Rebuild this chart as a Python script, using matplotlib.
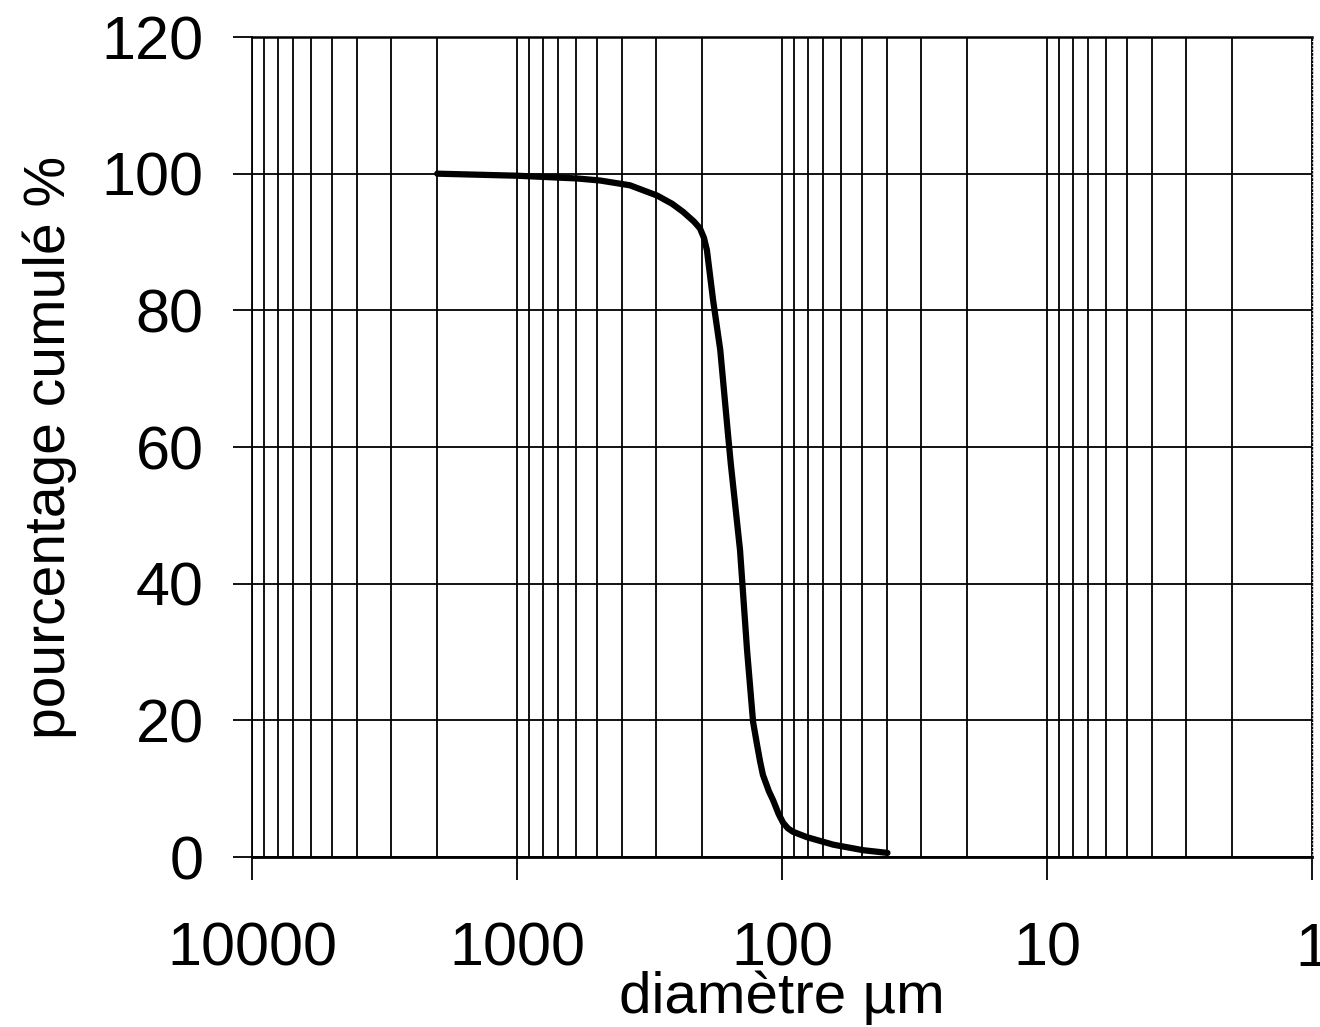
import numpy as np
import matplotlib
matplotlib.use('Agg')
import matplotlib.pyplot as plt

# cumulative passing curve
diam = [2000, 1000, 594, 486, 375, 296, 260, 236, 215, 204, 197, 192, 182, 171, 160,
        156, 144, 135.5, 128.6, 124.3, 121, 118, 112, 108, 103, 99, 95, 91, 80.5, 64, 49.5, 40]
pct = [100, 99.7, 99.3, 99.0, 98.3, 96.8, 95.6, 94.4, 93.0, 92.0, 90.6, 88.8, 81.5, 74.2,
       62.0, 57.5, 44.9, 30.3, 19.8, 16.5, 14.0, 12.0, 9.6, 8.3, 6.3, 5.0, 4.2, 3.7, 2.9, 1.8, 1.0, 0.6]

x_ticks = [10000, 1000, 100, 10, 1]
x_labels = ['10000', '1000', '100', '10', '1']
y_ticks = [0, 20, 40, 60, 80, 100, 120]

plt.rcParams['font.family'] = ['Liberation Sans', 'DejaVu Sans']

fig = plt.figure(figsize=(13.2, 10.27), dpi=100)
ax = fig.add_axes([252/1320, 1 - 857/1027, (1312 - 252)/1320, (857 - 37)/1027])

ax.plot(diam, pct, color='black', linewidth=4.5, solid_capstyle='round',
        solid_joinstyle='round', zorder=3)

ax.set_xscale('log')
ax.set_xlim(10000, 1)
ax.set_ylim(0, 120)

ax.set_xticks(x_ticks)
ax.set_xticklabels(x_labels)
ax.set_yticks(y_ticks)
ax.xaxis.set_minor_locator(matplotlib.ticker.LogLocator(base=10, subs=np.arange(2, 10)))
ax.xaxis.set_minor_formatter(matplotlib.ticker.NullFormatter())

ax.grid(True, which='major', color='black', linewidth=1.3)
ax.grid(True, which='minor', axis='x', color='black', linewidth=1.3)

ax.tick_params(axis='x', which='major', direction='out', length=16.5, width=1.3,
               pad=30, labelsize=44, colors='black')
ax.tick_params(axis='x', which='minor', length=0)
ax.tick_params(axis='y', direction='out', length=13.7, width=1.3,
               pad=21, labelsize=44, colors='black')

ax.spines['bottom'].set_linewidth(2)
ax.spines['top'].set_linewidth(1.8)
ax.spines['left'].set_linewidth(1.3)
ax.spines['right'].set_linewidth(1)
ax.spines['right'].set_linestyle(':')

ax.set_xlabel('diamètre µm', fontsize=42, labelpad=-6)
ax.set_ylabel('pourcentage cumulé %', fontsize=41, labelpad=18)

fig.savefig('out.png', dpi=100)
